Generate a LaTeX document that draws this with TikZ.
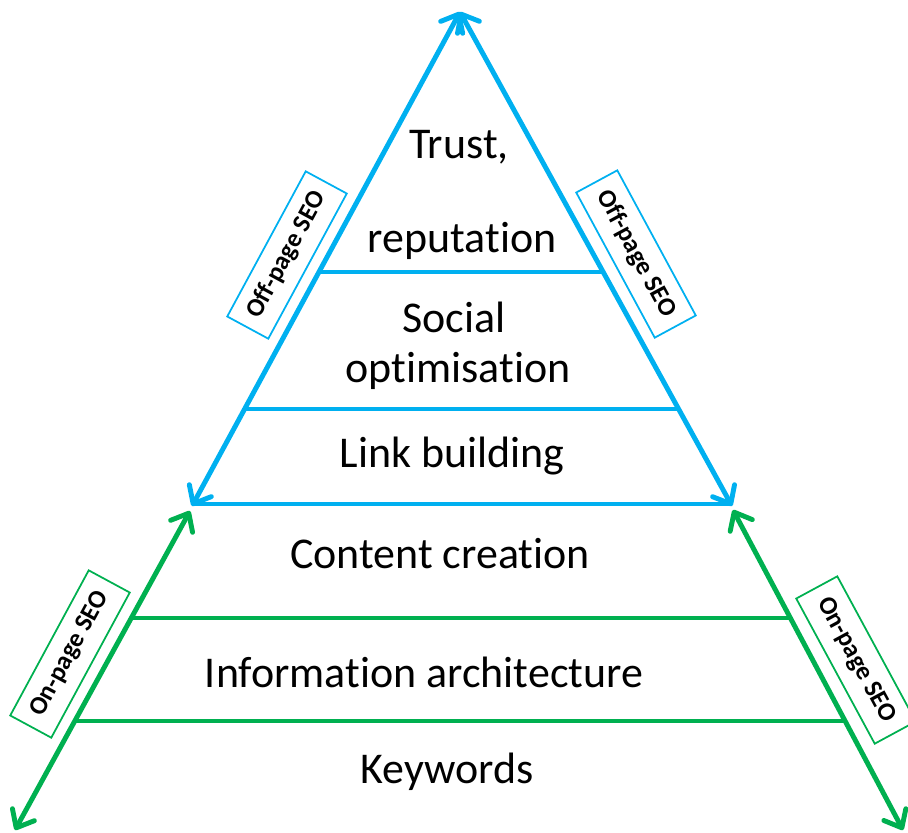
\documentclass[tikz,border=0pt]{standalone}
\usepackage{fontspec}
\setmainfont{Carlito}[Ligatures=NoCommon]
\usetikzlibrary{arrows.meta}
\definecolor{seoblue}{HTML}{00B0F0}
\definecolor{seogreen}{HTML}{00B050}

\begin{document}
\begin{tikzpicture}[x=0.03cm,y=-0.03cm,
   barbs/.style={{Straight Barb[length=4.5mm,width=7.5mm,round]}-{Straight Barb[length=4.5mm,width=7.5mm,round]}},
   side/.style={line width=4.2pt,barbs},
   level/.style={line width=2.6pt},
   tag/.style={draw,line width=1.5pt,minimum width=4.95cm,minimum height=1.4cm,inner sep=0pt,
     font=\fontsize{22}{25}\selectfont\bfseries}]
   \useasboundingbox (0,0) rectangle (908,832);
   % corners of the pyramid
   \coordinate (top) at (460,12);
   \coordinate (bl) at (192,506);
   \coordinate (br) at (732,506);
   \coordinate (gl) at (190,511);
   \coordinate (gr) at (733,510);
   \coordinate (fl) at (15,830);
   \coordinate (fr) at (903,830);
   % ends of the levels
   \coordinate (l1) at (319,272);   \coordinate (r1) at (603,272);
   \coordinate (l2) at (245,409);   \coordinate (r2) at (678,409);
   \coordinate (l3) at (192,504);   \coordinate (r3) at (732,504);
   \coordinate (l4) at (131,618);   \coordinate (r4) at (790,618);
   \coordinate (l5) at (75,721);    \coordinate (r5) at (845,721);
   \begin{scope}[every node/.style={anchor=base,font=\fontsize{37.5}{44}\selectfont}]
    \node (trust) at (459,158) {Trust,};
    \node (rep) at (462,252) {reputation};
    \node (soc) at (454,332) {Social};
    \node (opt) at (458,382) {optimisation};
    \node (link) at (452,467) {Link building};
    \node (cont) at (440,568) {Content creation};
    \node (info) at (424,687) {Information architecture};
    \node (key) at (447,783) {Keywords};
   \end{scope}
   \begin{scope}[every edge/.style={draw=seoblue,level}]
    \draw (l1) edge (r1);
    \draw (l2) edge (r2);
    \draw (l3) edge (r3);
   \end{scope}
   \begin{scope}[every edge/.style={draw=seogreen,level}]
    \draw (l4) edge (r4);
    \draw (l5) edge (r5);
   \end{scope}
   \draw[seoblue,side] (top) -- (bl);
   \draw[seoblue,side] (top) -- (br);
   \draw[seogreen,side] (gl) -- (fl);
   \draw[seogreen,side] (gr) -- (fr);
   % labels along the sides
   \node[tag,draw=seoblue,rotate=61.6] (offl) at (287,255) {Off-page SEO};
   \node[tag,draw=seoblue,rotate=-61.6] (offr) at (636,254) {Off-page SEO};
   \node[tag,draw=seogreen,rotate=61.6] (onl) at (70,654) {On-page SEO};
   \node[tag,draw=seogreen,rotate=-61.6] (onr) at (856,660) {On-page SEO};
\end{tikzpicture}
\end{document}
